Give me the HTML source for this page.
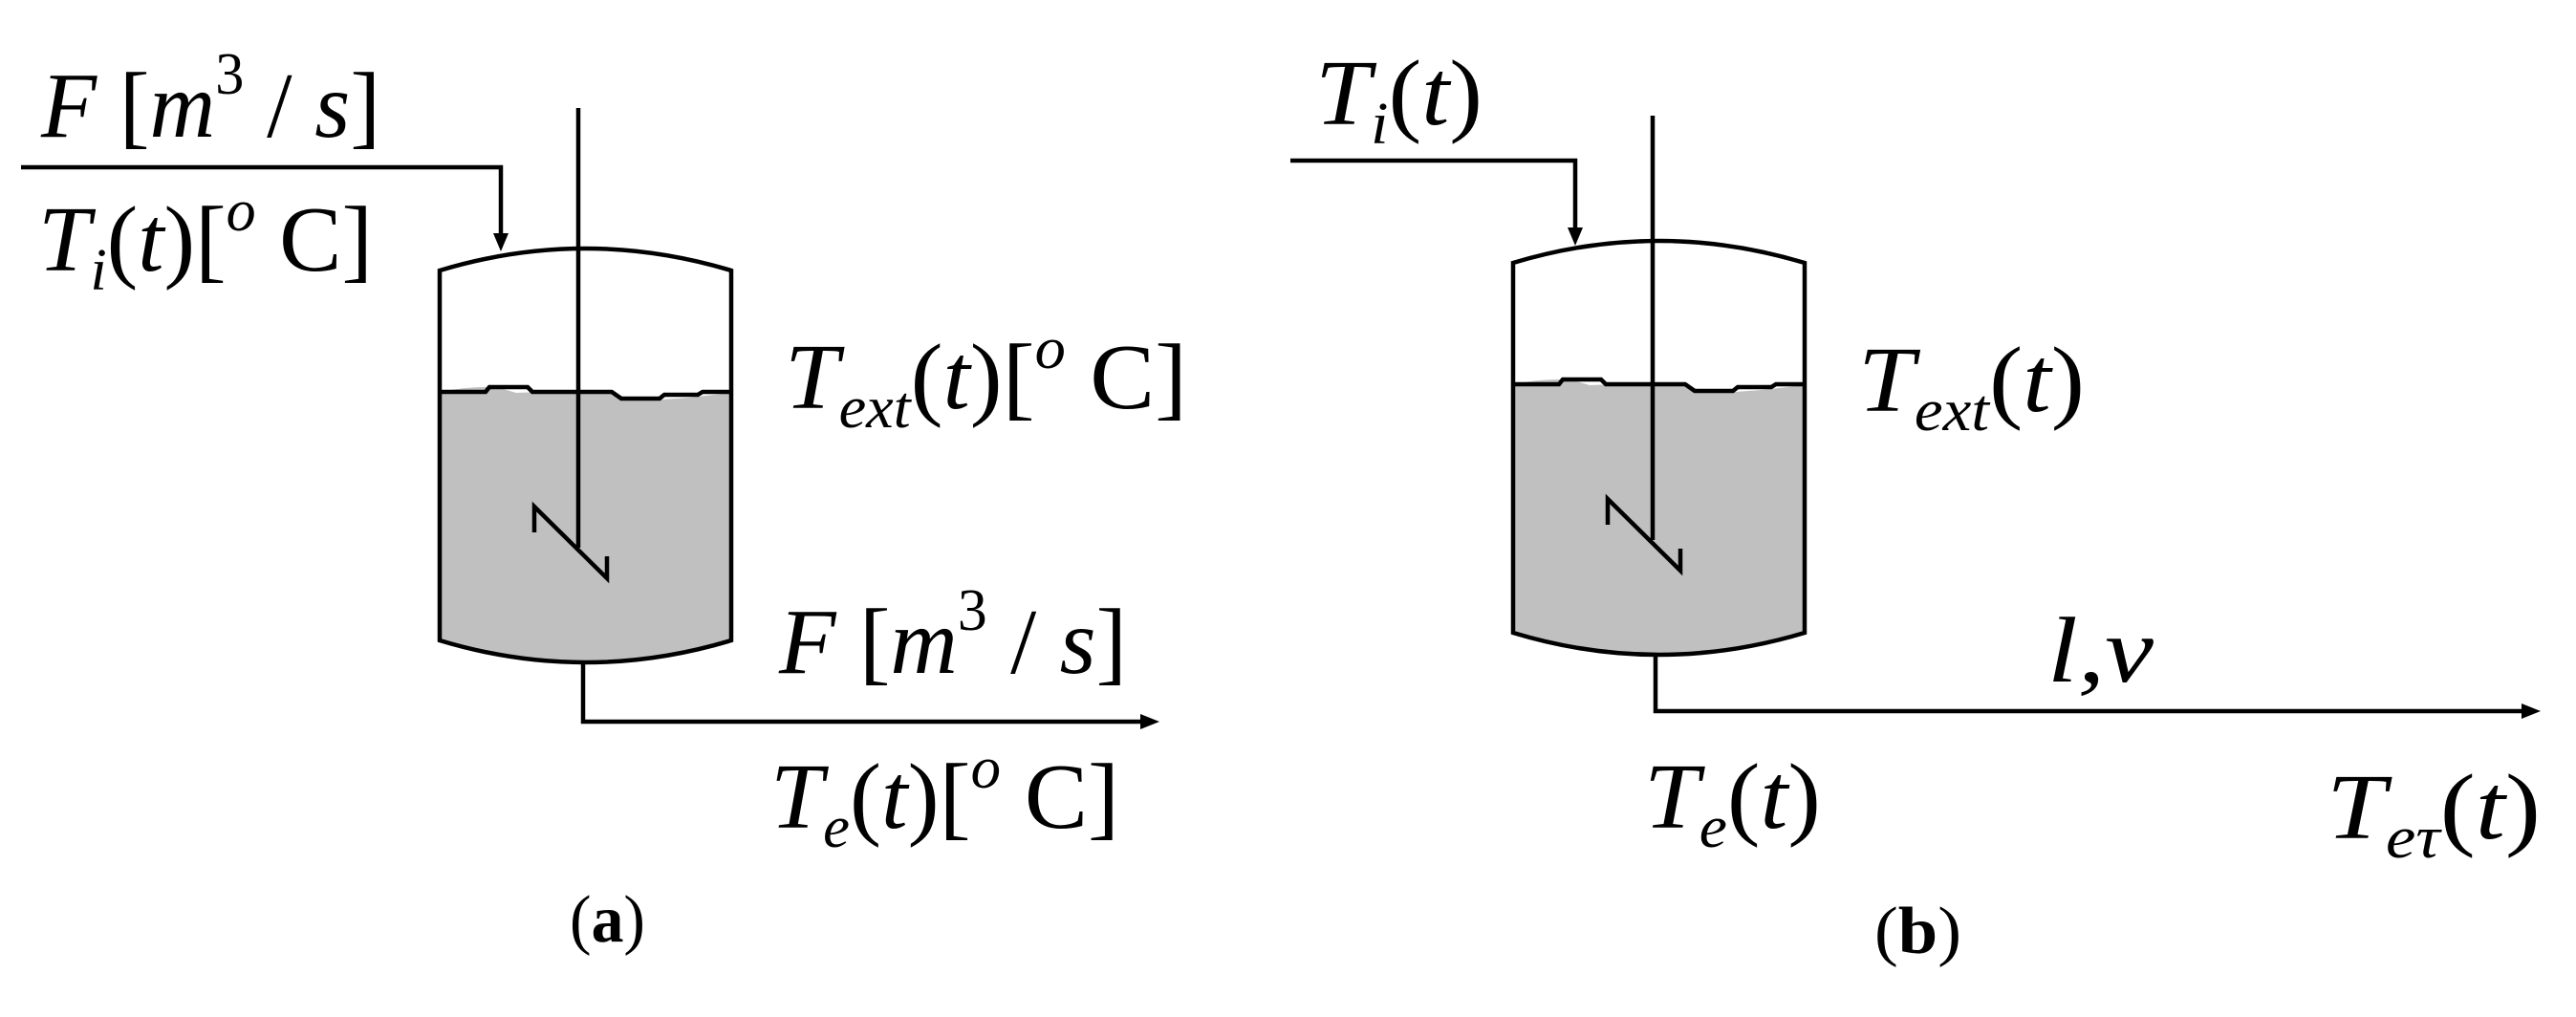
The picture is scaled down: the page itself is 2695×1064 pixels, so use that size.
<!DOCTYPE html>
<html><head><meta charset="utf-8"><style>
html,body{margin:0;padding:0;background:#fff;}
svg{display:block;}
text{font-family:"Liberation Serif",serif;fill:#000;}
.i{font-style:italic;}
</style></head><body>
<svg width="2695" height="1064" viewBox="0 0 2695 1064" xmlns="http://www.w3.org/2000/svg">
<defs>
<g id="tank">
  <path d="M460,410 Q490,404 520,405 L540,411 Q600,409 640,410 Q660,420 680,419 Q705,417 720,416 L765,411 L765,670 Q612,716 460,670 Z" fill="#c0c0c0"/>
  <path d="M460,670 L460,283 Q612,237 765,283 L765,670 Q612,716 460,670 Z" fill="none" stroke="#000" stroke-width="4.5"/>
  <path d="M460,410 L508,410 L512,405 L552,405 L557,410 L640,410 L650,417 L690,417 L695,413 L730,413 L735,410 L765,410" fill="none" stroke="#000" stroke-width="4.5"/>
  <polyline points="559,557 559,530 635,605 635,582" fill="none" stroke="#000" stroke-width="4.5"/>
</g>
</defs>

<!-- (a) -->
<use href="#tank"/>
<line x1="605" y1="113" x2="605" y2="573" stroke="#000" stroke-width="4.5"/>
<polyline points="22,175 524,175 524,248" fill="none" stroke="#000" stroke-width="4.5"/>
<polygon points="516,244 532,244 524,263" fill="#000"/>
<polyline points="610,692 610,755 1195,755" fill="none" stroke="#000" stroke-width="4.5"/>
<polygon points="1193,747 1213,755 1193,763" fill="#000"/>

<text x="43" y="143" font-size="98" textLength="355" lengthAdjust="spacingAndGlyphs"><tspan class="i">F</tspan> [<tspan class="i">m</tspan><tspan font-size="62" dy="-45">3</tspan><tspan dy="45"> / </tspan><tspan class="i">s</tspan>]</text>
<text x="40" y="283" font-size="98" textLength="350" lengthAdjust="spacingAndGlyphs"><tspan class="i">T</tspan><tspan class="i" font-size="62" dy="20">i</tspan><tspan dy="-20">(</tspan><tspan class="i">t</tspan>)[<tspan class="i" font-size="62" dy="-42">o</tspan><tspan dy="42"> C]</tspan></text>
<text x="821" y="427" font-size="98" textLength="421" lengthAdjust="spacingAndGlyphs"><tspan class="i">T</tspan><tspan class="i" font-size="62" dy="20">ext</tspan><tspan dy="-20">(</tspan><tspan class="i">t</tspan>)[<tspan class="i" font-size="62" dy="-42">o</tspan><tspan dy="42"> C]</tspan></text>
<text x="815" y="704" font-size="98" textLength="364" lengthAdjust="spacingAndGlyphs"><tspan class="i">F</tspan> [<tspan class="i">m</tspan><tspan font-size="62" dy="-45">3</tspan><tspan dy="45"> / </tspan><tspan class="i">s</tspan>]</text>
<text x="806" y="866" font-size="98" textLength="365" lengthAdjust="spacingAndGlyphs"><tspan class="i">T</tspan><tspan class="i" font-size="62" dy="20">e</tspan><tspan dy="-20">(</tspan><tspan class="i">t</tspan>)[<tspan class="i" font-size="62" dy="-42">o</tspan><tspan dy="42"> C]</tspan></text>
<text x="596" y="985" font-size="70" font-weight="bold" textLength="79" lengthAdjust="spacingAndGlyphs"><tspan font-weight="normal">(</tspan>a<tspan font-weight="normal">)</tspan></text>

<!-- (b) -->
<g transform="translate(1123,-8)"><use href="#tank"/></g>
<line x1="1729" y1="121" x2="1729" y2="565" stroke="#000" stroke-width="4.5"/>
<polyline points="1350,168 1648,168 1648,242" fill="none" stroke="#000" stroke-width="4.5"/>
<polygon points="1640,238 1656,238 1648,257" fill="#000"/>
<polyline points="1732,684 1732,744 2640,744" fill="none" stroke="#000" stroke-width="4.5"/>
<polygon points="2638,736 2658,744 2638,752" fill="#000"/>

<text x="1376" y="130" font-size="98" textLength="175" lengthAdjust="spacingAndGlyphs"><tspan class="i">T</tspan><tspan class="i" font-size="62" dy="20">i</tspan><tspan dy="-20">(</tspan><tspan class="i">t</tspan>)</text>
<text x="1944" y="430" font-size="98" textLength="237" lengthAdjust="spacingAndGlyphs"><tspan class="i">T</tspan><tspan class="i" font-size="62" dy="20">ext</tspan><tspan dy="-20">(</tspan><tspan class="i">t</tspan>)</text>
<text x="2142" y="713" font-size="98" class="i" textLength="111" lengthAdjust="spacingAndGlyphs">l,v</text>
<text x="1720" y="866" font-size="98" textLength="185" lengthAdjust="spacingAndGlyphs"><tspan class="i">T</tspan><tspan class="i" font-size="62" dy="20">e</tspan><tspan dy="-20">(</tspan><tspan class="i">t</tspan>)</text>
<text x="2434" y="877" font-size="98" textLength="224" lengthAdjust="spacingAndGlyphs"><tspan class="i">T</tspan><tspan class="i" font-size="62" dy="20">eτ</tspan><tspan dy="-20">(</tspan><tspan class="i">t</tspan>)</text>
<text x="1961" y="997" font-size="70" font-weight="bold" textLength="91" lengthAdjust="spacingAndGlyphs"><tspan font-weight="normal">(</tspan>b<tspan font-weight="normal">)</tspan></text>
</svg>
</body></html>
